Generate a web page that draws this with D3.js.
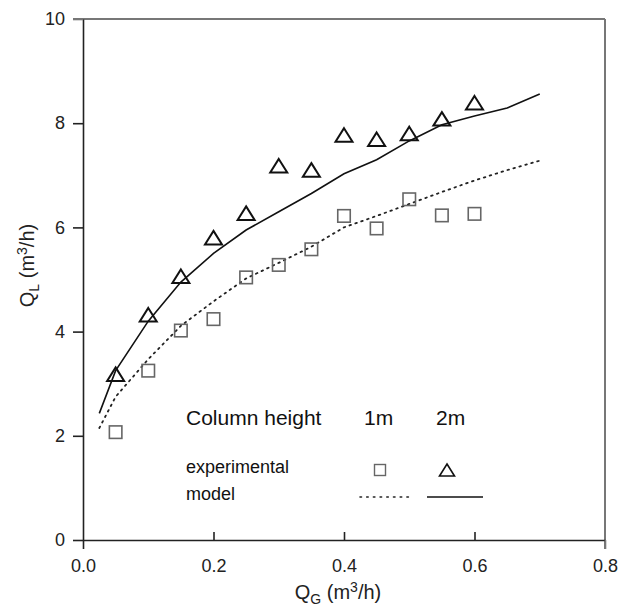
<!DOCTYPE html>
<html>
<head>
<meta charset="utf-8">
<script src="https://cdn.jsdelivr.net/npm/d3@7"></script>
<style>
  html, body { margin: 0; padding: 0; background: #fff; }
  svg { display: block; font-family: "Liberation Sans", Arial, Helvetica, sans-serif; }
</style>
</head>
<body>
<svg id="chart" width="632" height="607"></svg>
<script>
// ---- data ----
const expQG      = [0.05, 0.10, 0.15, 0.20, 0.25, 0.30, 0.35, 0.40, 0.45, 0.50, 0.55, 0.60];
const exp1m      = [2.07, 3.25, 4.02, 4.24, 5.04, 5.28, 5.58, 6.22, 5.98, 6.54, 6.23, 6.26];
const exp2m      = [3.15, 4.29, 5.03, 5.77, 6.24, 7.15, 7.07, 7.74, 7.66, 7.77, 8.05, 8.36];
const modelQG    = [0.025, 0.05, 0.10, 0.15, 0.20, 0.25, 0.30, 0.35, 0.40, 0.45, 0.50, 0.55, 0.60, 0.65, 0.70];
const model1m    = [2.15, 2.75, 3.47, 4.11, 4.58, 5.02, 5.32, 5.63, 6.00, 6.22, 6.45, 6.68, 6.90, 7.10, 7.28];
const model2m    = [2.43, 3.25, 4.20, 4.95, 5.50, 5.95, 6.30, 6.65, 7.03, 7.30, 7.66, 7.97, 8.14, 8.29, 8.56];
const xTicks     = [0, 0.2, 0.4, 0.6, 0.8];
const yTicks     = [0, 2, 4, 6, 8, 10];

// ---- layout ----
const svg = d3.select("#chart");
const L = 83, R = 605, T = 19, B = 540;
const x = d3.scaleLinear().domain([0, 0.8]).range([L, R]);
const y = d3.scaleLinear().domain([0, 10]).range([B, T]);

// frame (top & right, grey)
svg.append("line").attr("x1", L - 10).attr("x2", R).attr("y1", T).attr("y2", T)
  .attr("stroke", "#777").attr("stroke-width", 2);
svg.append("line").attr("x1", R).attr("x2", R).attr("y1", T).attr("y2", B + 9)
  .attr("stroke", "#777").attr("stroke-width", 2);

// y axis
const yAxis = svg.append("g").attr("transform", `translate(${L},0)`)
  .call(d3.axisLeft(y).tickValues(yTicks).tickFormat(d3.format("d")).tickSize(10).tickSizeOuter(0).tickPadding(8));
yAxis.select(".domain").attr("stroke", "#222").attr("stroke-width", 1.6);
yAxis.selectAll(".tick line").attr("stroke", "#222").attr("stroke-width", 1.6);
yAxis.selectAll(".tick text").attr("font-size", 18).attr("fill", "#222")
  .attr("font-family", "Liberation Sans, Arial, sans-serif");
yAxis.selectAll(".tick").filter(d => d === 10).select("line").attr("stroke", "#777");

// x axis
const xAxis = svg.append("g").attr("transform", `translate(0,${B})`)
  .call(d3.axisBottom(x).tickValues(xTicks).tickFormat(d3.format(".1f")).tickSize(-8).tickSizeOuter(0).tickPadding(19));
xAxis.select(".domain").attr("stroke", "#222").attr("stroke-width", 1.6);
xAxis.selectAll(".tick line").attr("stroke", "#222").attr("stroke-width", 1.6)
  .attr("y2", d => (d === 0 || d === 0.8) ? 9 : -8)
  .attr("stroke", d => d === 0.8 ? "#777" : "#222");
xAxis.selectAll(".tick text").attr("font-size", 18).attr("fill", "#222")
  .attr("font-family", "Liberation Sans, Arial, sans-serif");

// axis titles
const yt = svg.append("text").attr("transform", `translate(34,${(T + B) / 2 - 14}) rotate(-90)`)
  .attr("text-anchor", "middle").attr("font-size", 20).attr("fill", "#222");
yt.append("tspan").text("Q");
yt.append("tspan").attr("font-size", 14).attr("dy", 5).text("L");
yt.append("tspan").attr("dy", -5).text(" (m");
yt.append("tspan").attr("font-size", 14).attr("dy", -7).text("3");
yt.append("tspan").attr("dy", 7).text("/h)");

const xt = svg.append("text").attr("x", 338).attr("y", 599)
  .attr("text-anchor", "middle").attr("font-size", 20).attr("fill", "#222");
xt.append("tspan").text("Q");
xt.append("tspan").attr("font-size", 14).attr("dy", 5).text("G");
xt.append("tspan").attr("dy", -5).text(" (m");
xt.append("tspan").attr("font-size", 14).attr("dy", -7).text("3");
xt.append("tspan").attr("dy", 7).text("/h)");

// model lines
const line = d3.line().x(d => x(d[0])).y(d => y(d[1]));
const m1 = modelQG.map((q, i) => [q, model1m[i]]);
const m2 = modelQG.map((q, i) => [q, model2m[i]]);
svg.append("path").datum(m1).attr("d", line).attr("fill", "none")
  .attr("stroke", "#222").attr("stroke-width", 1.8).attr("stroke-dasharray", "1.6,4.6").attr("stroke-linecap", "round");
svg.append("path").datum(m2).attr("d", line).attr("fill", "none")
  .attr("stroke", "#111").attr("stroke-width", 1.6);

// symbols
const sq = 12.5;
const triPath = "M0,-8.5L8.5,5L-8.5,5Z";
svg.append("g").selectAll("rect").data(expQG.map((q, i) => [q, exp1m[i]])).join("rect")
  .attr("x", d => x(d[0]) - sq / 2).attr("y", d => y(d[1]) - sq / 2)
  .attr("width", sq).attr("height", sq)
  .attr("fill", "none").attr("stroke", "#666").attr("stroke-width", 1.6);
svg.append("g").selectAll("path").data(expQG.map((q, i) => [q, exp2m[i]])).join("path")
  .attr("transform", d => `translate(${x(d[0])},${y(d[1])})`)
  .attr("d", triPath).attr("fill", "none").attr("stroke", "#111").attr("stroke-width", 2);

// legend
const lg = svg.append("g").attr("fill", "#111");
lg.append("text").attr("x", 186).attr("y", 425).attr("font-size", 21).text("Column height");
lg.append("text").attr("x", 364).attr("y", 425).attr("font-size", 21).text("1m");
lg.append("text").attr("x", 436).attr("y", 425).attr("font-size", 21).text("2m");
lg.append("text").attr("x", 186).attr("y", 473).attr("font-size", 18).text("experimental");
lg.append("text").attr("x", 186).attr("y", 500).attr("font-size", 18).text("model");
lg.append("rect").attr("x", 380 - 5.5).attr("y", 470 - 5.5).attr("width", 11).attr("height", 11)
  .attr("fill", "none").attr("stroke", "#666").attr("stroke-width", 1.4);
lg.append("path").attr("transform", "translate(447,471)").attr("d", "M0,-7L7.5,5L-7.5,5Z")
  .attr("fill", "none").attr("stroke", "#111").attr("stroke-width", 1.6);
lg.append("line").attr("x1", 360).attr("x2", 413).attr("y1", 497).attr("y2", 497)
  .attr("stroke", "#222").attr("stroke-width", 1.6).attr("stroke-dasharray", "1.5,5.2").attr("stroke-linecap", "round");
lg.append("line").attr("x1", 427).attr("x2", 483).attr("y1", 497).attr("y2", 497)
  .attr("stroke", "#111").attr("stroke-width", 1.6);
</script>
</body>
</html>
